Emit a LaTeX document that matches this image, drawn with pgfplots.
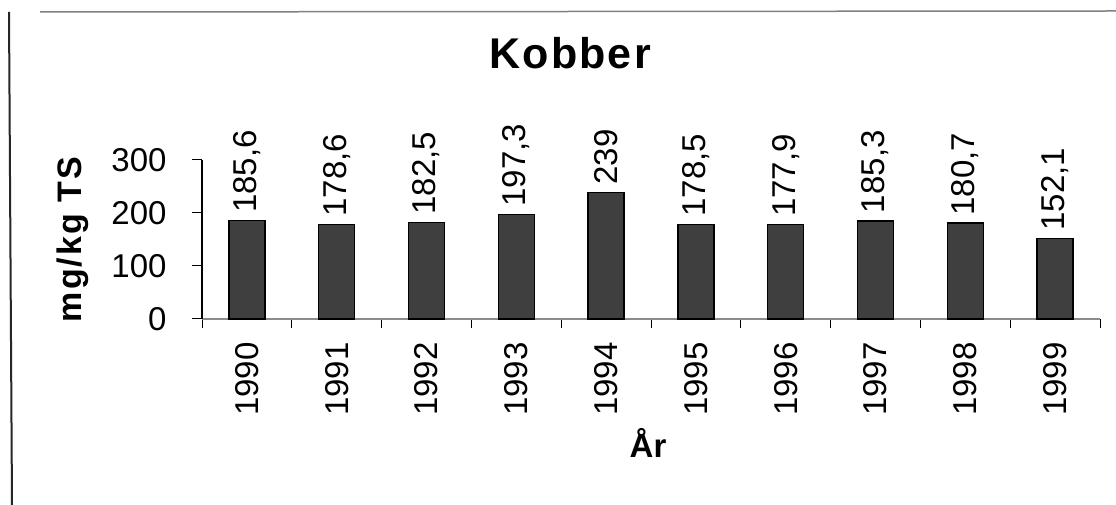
\documentclass[border=0pt]{standalone}
\usepackage{fontspec}
\setmainfont{Liberation Sans}
\usepackage{pgfplots}
\pgfplotsset{compat=1.18}
\definecolor{barfill}{HTML}{3F3F3F}
\begin{document}
\begin{tikzpicture}[x=1pt,y=1pt]
\path[use as bounding box] (0,0) rectangle (1116,505);
\draw[black!85, line width=2pt] (9,493) -- (12,0);
\draw[black!50, line width=1.5pt] (40,493) -- (1116,494);
\begin{axis}[
  at={(202pt,186pt)}, anchor=south west,
  scale only axis, width=898pt, height=159pt,
  xmin=-0.5, xmax=9.5, ymin=0, ymax=300,
  axis lines*=left, clip=false,
  x axis line style={draw=black!45, line width=1.2pt},
  y axis line style={draw=black, line width=1.2pt},
  ybar, bar width=0.4,
  tick align=outside,
  major tick length=10pt, minor tick length=9pt,
  tick style={black, line width=1pt},
  ytick={0,100,200,300}, yticklabels={0,100,200,300},
  xtick={0,...,9}, xticklabels={1990,1991,1992,1993,1994,1995,1996,1997,1998,1999},
  major x tick style={draw=none},
  minor xtick={-0.5,0.5,...,9.5},
  xticklabel shift=10pt,
  xticklabel style={rotate=90, anchor=east, font=\fontsize{33}{33}\selectfont},
  yticklabel style={anchor=east, xshift=-22pt, font=\fontsize{33}{33}\selectfont},
  xlabel={År},
  xlabel style={at={(axis description cs:0.4967,-0.874)}, anchor=base, font=\bfseries\fontsize{33}{33}\selectfont},
  ylabel={mg/kg TS},
  ylabel style={at={(axis description cs:-0.122,0.5)}, anchor=south, rotate=0, font=\bfseries\fontsize{34}{34}\selectfont\addfontfeatures{LetterSpace=6}},
  title={Kobber},
  title style={at={(axis description cs:0.41,1.535)}, anchor=base, font=\bfseries\fontsize{43}{43}\selectfont\addfontfeatures{LetterSpace=5}},
  nodes near coords, point meta=explicit symbolic,
  every node near coord/.append style={rotate=90, anchor=west, inner xsep=7pt, inner ysep=0pt, font=\fontsize{33}{33}\selectfont, black},
]
\addplot[fill=barfill, draw=black, line width=1.5pt] coordinates {
  (0,185.6) [185,6]
  (1,178.6) [178,6]
  (2,182.5) [182,5]
  (3,197.3) [197,3]
  (4,239)   [239]
  (5,178.5) [178,5]
  (6,177.9) [177,9]
  (7,185.3) [185,3]
  (8,180.7) [180,7]
  (9,152.1) [152,1]
};
\end{axis}
\end{tikzpicture}
\end{document}
